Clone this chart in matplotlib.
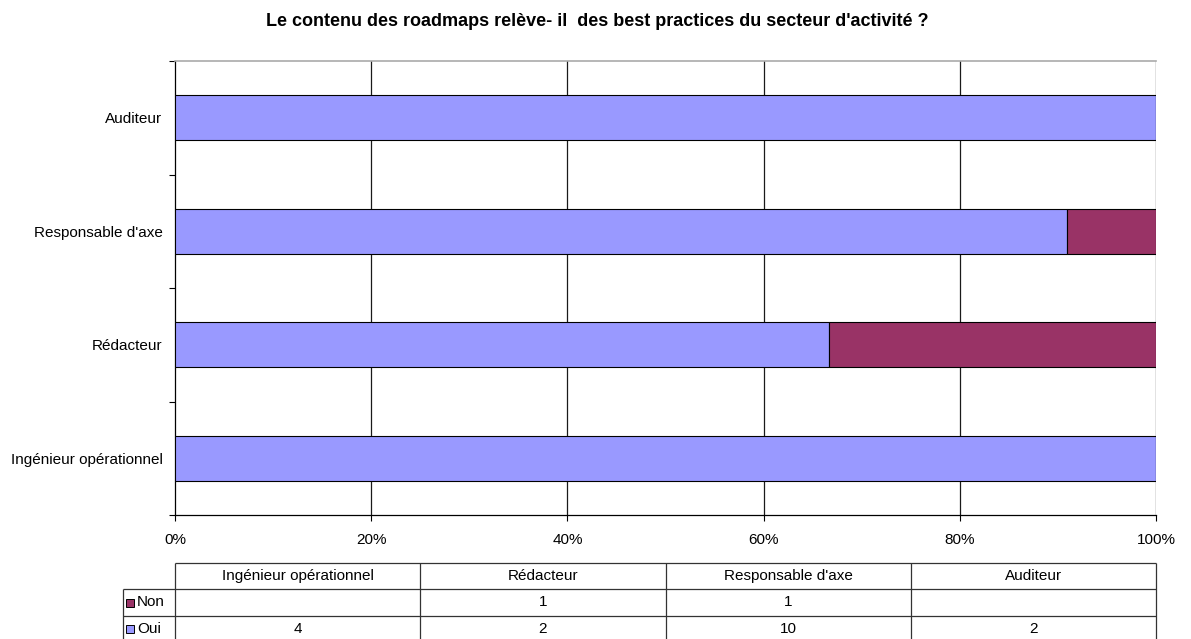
import numpy as np
import matplotlib
matplotlib.use("Agg")
import matplotlib.pyplot as plt

plt.rcParams['font.family'] = ['Liberation Sans', 'DejaVu Sans']

title = "Le contenu des roadmaps relève- il  des best practices du secteur d'activité ?"
categories = ["Ingénieur opérationnel", "Rédacteur", "Responsable d'axe", "Auditeur"]
series = ["Non", "Oui"]
non = [0, 1, 1, 0]
oui = [4, 2, 10, 2]
colors = {"Oui": "#9999FF", "Non": "#993366"}

W, H = 1191, 639
fig = plt.figure(figsize=(W / 100, H / 100), dpi=100)

def box(x0, y0, x1, y1):
    # pixel box (top-left origin) -> figure fraction rect
    return [x0 / W, 1 - y1 / H, (x1 - x0) / W, (y1 - y0) / H]

# ---- stacked 100% bars ----
ax = fig.add_axes(box(175, 61, 1156, 515))
oui_a = np.array(oui, float)
non_a = np.array(non, float)
tot = oui_a + non_a
y = np.arange(len(categories))
ax.barh(y, oui_a / tot, height=0.4, color=colors["Oui"], edgecolor="black", lw=0.8, zorder=3)
ax.barh(y, non_a / tot, left=oui_a / tot, height=0.4, color=colors["Non"],
        edgecolor="black", lw=0.8, zorder=3)

ax.set_xlim(0, 1)
ax.set_ylim(-0.5, len(categories) - 0.5)
ax.set_xticks(np.arange(0, 1.01, 0.2))
ax.set_xticklabels(["%d%%" % round(v * 100) for v in np.arange(0, 1.01, 0.2)], fontsize=11)
ax.set_yticks(y)
ax.set_yticklabels(categories, fontsize=11)
ax.set_yticks(np.arange(-0.5, len(categories)), minor=True)
ax.tick_params(axis="y", which="major", length=0, pad=9)
ax.tick_params(axis="y", which="minor", length=4, width=0.8, direction="out")
ax.tick_params(axis="x", length=4, width=0.8, direction="out", pad=9)
for v in np.arange(0.2, 1.01, 0.2):
    ax.axvline(v, color="#1a1a1a", lw=0.9, zorder=1)
for s in ["left", "bottom"]:
    ax.spines[s].set_color("black")
    ax.spines[s].set_linewidth(0.9)
ax.spines["right"].set_visible(False)
ax.spines["top"].set_color("#aaaaaa")
ax.spines["top"].set_linewidth(1.2)

fig.text(597 / W, 1 - 22 / H, title, ha="center", va="center", fontsize=13, fontweight="bold")

# ---- data table under the chart ----
tx = fig.add_axes(box(175, 563, 1156, 642))
tx.set_xlim(0, len(categories))
tx.set_ylim(3, 0)
tx.axis("off")
lab_x = -52 / 245.25
lc = "#333333"
kw = dict(color=lc, lw=0.9, clip_on=False, solid_capstyle="butt")
tx.plot([0, 4], [0, 0], **kw)
for r in (1, 2, 3):
    tx.plot([lab_x, 4], [r, r], **kw)
for c in range(5):
    tx.plot([c, c], [0, 3], **kw)
tx.plot([lab_x, lab_x], [1, 3], **kw)

for c, name in enumerate(categories):
    tx.text(c + 0.5, 0.5, name, ha="center", va="center", fontsize=11)
for r, (name, vals) in enumerate([("Non", non), ("Oui", oui)], start=1):
    tx.plot([lab_x + 0.03], [r + 0.5], marker="s", ms=6, mfc=colors[name], mec="black",
            mew=0.7, clip_on=False)
    tx.text(lab_x + 0.058, r + 0.5, name, ha="left", va="center", fontsize=11)
    for c, v in enumerate(vals):
        if v:
            tx.text(c + 0.5, r + 0.5, str(v), ha="center", va="center", fontsize=11)

fig.savefig("out.png", dpi=100)
